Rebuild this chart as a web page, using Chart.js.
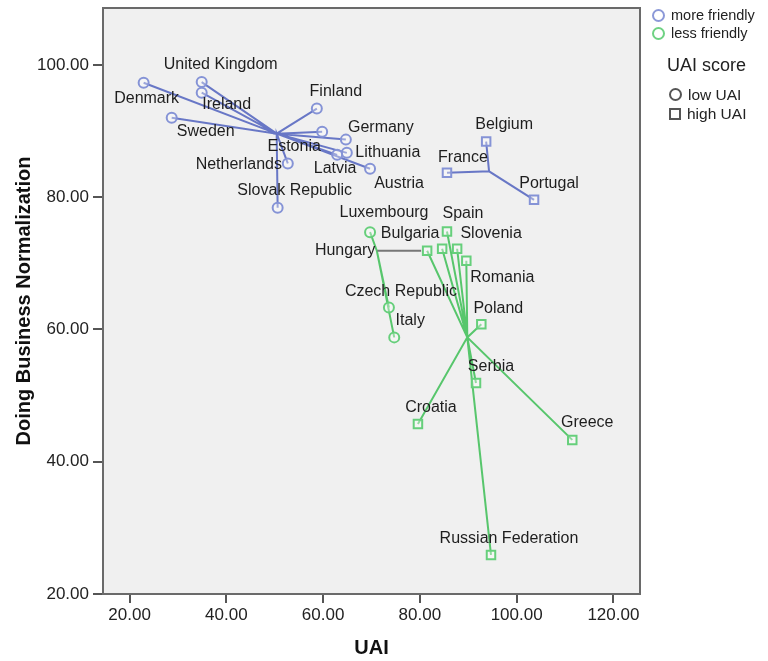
<!DOCTYPE html>
<html>
<head>
<meta charset="utf-8">
<script src="https://cdn.jsdelivr.net/npm/chart.js@4.4.1/dist/chart.umd.min.js"></script>
<style>
  html, body { margin: 0; padding: 0; background: #fff; }
  #wrap { position: relative; width: 768px; height: 661px; }
  #legend {
    position: absolute; left: 652px; top: 6px;
    font-family: "Liberation Sans", Arial, sans-serif; color: #222;
  }
  #legend .row { display: flex; align-items: center; font-size: 14.5px; height: 18px; }
  #legend .sym { width: 10px; height: 10px; border: 2px solid; margin-right: 6px; box-sizing: border-box; }
  #legend .circ { border-radius: 50%; width: 13px; height: 13px; }
  #legend .head { font-size: 18px; margin: 13px 0 9px 15px; }
  #legend .sub { margin-left: 17px; font-size: 15.5px; height: 19px; }
</style>
</head>
<body>
<div id="wrap">
  <canvas id="chart" width="768" height="661"></canvas>
  <div id="legend">
    <div class="row"><span class="sym circ" style="border-color:#8c99d8"></span>more friendly</div>
    <div class="row"><span class="sym circ" style="border-color:#6fd283"></span>less friendly</div>
    <div class="head">UAI score</div>
    <div class="row sub"><span class="sym circ" style="border-color:#555"></span>low UAI</div>
    <div class="row sub"><span class="sym" style="border-color:#555;width:12px;height:12px"></span>high UAI</div>
  </div>
</div>
<script>
// more friendly, low UAI
const blueLowNames = ['Denmark', 'United Kingdom', 'Ireland', 'Sweden', 'Finland', 'Estonia',
  'Germany', 'Lithuania', 'Latvia', 'Austria', 'Netherlands', 'Slovak Republic'];
const blueLowUAI = [22.9, 34.9, 34.9, 28.7, 58.7, 59.8, 64.7, 64.9, 62.9, 69.7, 52.7, 50.6];
const blueLowDB = [97.3, 97.4, 95.8, 92.0, 93.4, 89.9, 88.7, 86.7, 86.4, 84.3, 85.1, 78.4];
const blueLowCenter = [50.4, 89.6];

// more friendly, high UAI
const blueHighNames = ['Belgium', 'France', 'Portugal'];
const blueHighUAI = [93.7, 85.6, 103.6];
const blueHighDB = [88.4, 83.7, 79.6];
const blueHighCenter = [94.3, 83.9];

// less friendly, low UAI
const greenLowNames = ['Luxembourg', 'Czech Republic', 'Italy'];
const greenLowUAI = [69.7, 73.6, 74.7];
const greenLowDB = [74.7, 63.3, 58.8];
const greenLowCenter = [71.1, 71.9];

// less friendly, high UAI
const greenHighNames = ['Hungary', 'Bulgaria', 'Spain', 'Slovenia', 'Romania', 'Poland',
  'Serbia', 'Croatia', 'Greece', 'Russian Federation'];
const greenHighUAI = [81.5, 84.6, 85.6, 87.7, 89.6, 92.7, 91.6, 79.6, 111.5, 94.7];
const greenHighDB = [71.9, 72.2, 74.8, 72.2, 70.4, 60.8, 51.9, 45.7, 43.3, 25.9];
const greenHighCenter = [89.8, 58.8];

const xTicks = [20, 40, 60, 80, 100, 120];
const yTicks = [20, 40, 60, 80, 100];

// label placement, pixel offset of the text centre from its marker
const labelOffsets = {
  'Denmark': [3, 16], 'United Kingdom': [19, -17], 'Ireland': [25, 12], 'Sweden': [34, 14],
  'Finland': [19, -17], 'Estonia': [-28, 15], 'Germany': [35, -12], 'Lithuania': [41, 0],
  'Latvia': [-2, 14], 'Austria': [29, 15], 'Netherlands': [-49, 1], 'Slovak Republic': [17, -17],
  'Belgium': [18, -17], 'France': [16, -15], 'Portugal': [15, -16],
  'Luxembourg': [14, -20], 'Czech Republic': [12, -16], 'Italy': [16, -17],
  'Hungary': [-82, 0], 'Bulgaria': [-32, -15], 'Spain': [16, -18], 'Slovenia': [34, -15],
  'Romania': [36, 17], 'Poland': [17, -16], 'Serbia': [15, -16], 'Croatia': [13, -16],
  'Greece': [15, -17], 'Russian Federation': [18, -16]
};
// labels pushed away from their point get a leader line
const leaderLabels = ['Hungary'];

const BLUE_LINE = 'rgba(80, 98, 190, 0.85)';
const BLUE_MARK = '#8593d6';
const GREEN_LINE = 'rgba(60, 190, 85, 0.85)';
const GREEN_MARK = '#66cf7b';

function points(xs, ys) {
  return xs.map((x, i) => ({ x: x, y: ys[i] }));
}

// centre -> p1 -> centre -> p2 ... gives the star of spokes in one path
function spokes(center, xs, ys) {
  const out = [];
  xs.forEach((x, i) => {
    out.push({ x: center[0], y: center[1] });
    out.push({ x: x, y: ys[i] });
  });
  out.push({ x: center[0], y: center[1] });
  return out;
}

function starSet(center, xs, ys, color) {
  return {
    data: spokes(center, xs, ys),
    showLine: true, borderColor: color, borderWidth: 2,
    pointRadius: 0, tension: 0, order: 2
  };
}

function markSet(xs, ys, names, color, style) {
  return {
    data: points(xs, ys), names: names,
    pointStyle: style, pointRadius: style === 'rect' ? 6 : 5,
    pointBorderWidth: 2, pointBorderColor: color,
    pointBackgroundColor: 'rgba(255,255,255,0.35)',
    showLine: false, order: 1
  };
}

const plotBackground = {
  id: 'plotBackground',
  beforeDraw(chart) {
    const { ctx, chartArea: a } = chart;
    ctx.save();
    ctx.fillStyle = '#f0f0f0';
    ctx.fillRect(a.left, a.top, a.right - a.left, a.bottom - a.top);
    ctx.restore();
  },
  afterDraw(chart) {
    const { ctx, chartArea: a } = chart;
    ctx.save();
    ctx.strokeStyle = '#6a6a6a';
    ctx.lineWidth = 2;
    ctx.strokeRect(a.left, a.top, a.right - a.left, a.bottom - a.top);
    ctx.restore();
  }
};

const pointLabels = {
  id: 'pointLabels',
  afterDatasetsDraw(chart) {
    const ctx = chart.ctx;
    ctx.save();
    ctx.font = '16px "Liberation Sans", Arial, sans-serif';
    ctx.fillStyle = '#1e1e1e';
    ctx.textAlign = 'center';
    ctx.textBaseline = 'middle';
    chart.data.datasets.forEach((ds, di) => {
      if (!ds.names) return;
      const meta = chart.getDatasetMeta(di);
      meta.data.forEach((el, i) => {
        const name = ds.names[i];
        const off = labelOffsets[name] || [0, -16];
        const tx = el.x + off[0], ty = el.y + off[1];
        if (leaderLabels.includes(name)) {
          const w = ctx.measureText(name).width;
          ctx.strokeStyle = '#777';
          ctx.lineWidth = 2;
          ctx.beginPath();
          ctx.moveTo(tx + w / 2 + 2, ty);
          ctx.lineTo(el.x - 6, el.y);
          ctx.stroke();
        }
        ctx.fillText(name, tx, ty);
      });
    });
    ctx.restore();
  }
};

const tickFont = { family: '"Liberation Sans", Arial, sans-serif', size: 17 };
const titleFont = { family: '"Liberation Sans", Arial, sans-serif', size: 20, weight: 'bold' };

new Chart(document.getElementById('chart'), {
  type: 'scatter',
  data: {
    datasets: [
      starSet(blueLowCenter, blueLowUAI, blueLowDB, BLUE_LINE),
      starSet(blueHighCenter, blueHighUAI, blueHighDB, BLUE_LINE),
      starSet(greenLowCenter, greenLowUAI, greenLowDB, GREEN_LINE),
      starSet(greenHighCenter, greenHighUAI, greenHighDB, GREEN_LINE),
      markSet(blueLowUAI, blueLowDB, blueLowNames, BLUE_MARK, 'circle'),
      markSet(blueHighUAI, blueHighDB, blueHighNames, BLUE_MARK, 'rect'),
      markSet(greenLowUAI, greenLowDB, greenLowNames, GREEN_MARK, 'circle'),
      markSet(greenHighUAI, greenHighDB, greenHighNames, GREEN_MARK, 'rect')
    ]
  },
  options: {
    responsive: false,
    animation: false,
    layout: { padding: { top: 7, right: 128, left: 0, bottom: 0 } },
    plugins: { legend: { display: false }, tooltip: { enabled: false } },
    scales: {
      x: {
        type: 'linear', min: 14.5, max: 125.5,
        afterBuildTicks: s => { s.ticks = xTicks.map(v => ({ value: v })); },
        afterFit: s => { s.height = 67; s.paddingLeft = 0; s.paddingRight = 0; },
        grid: { drawOnChartArea: false, drawTicks: true, tickLength: 9, color: '#555', lineWidth: 2 },
        border: { display: false },
        ticks: { color: '#222', font: tickFont, padding: 2, maxRotation: 0, callback: v => v.toFixed(2) },
        title: { display: true, text: 'UAI', color: '#111', font: titleFont, padding: { top: 4, bottom: 1 } }
      },
      y: {
        type: 'linear', min: 20, max: 108.6,
        afterBuildTicks: s => { s.ticks = yTicks.map(v => ({ value: v })); },
        afterFit: s => { s.width = 103; s.paddingTop = 0; s.paddingBottom = 0; },
        grid: { drawOnChartArea: false, drawTicks: true, tickLength: 10, color: '#555', lineWidth: 2 },
        border: { display: false },
        ticks: { color: '#222', font: tickFont, padding: 4, callback: v => v.toFixed(2) },
        title: { display: true, text: 'Doing Business Normalization', color: '#111', font: titleFont, padding: { top: 12, bottom: 4 } }
      }
    }
  },
  plugins: [plotBackground, pointLabels]
});
</script>
</body>
</html>
